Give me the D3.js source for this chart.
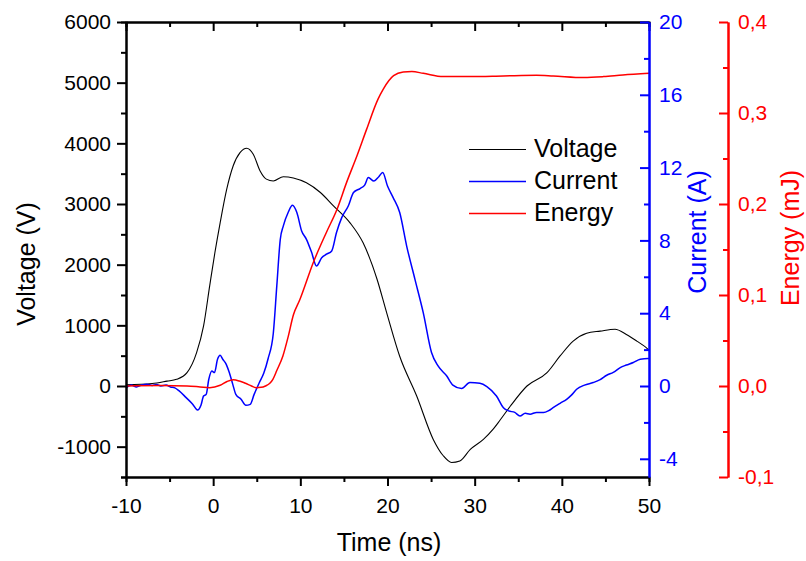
<!DOCTYPE html>
<html>
<head>
<meta charset="utf-8">
<script src="https://cdn.jsdelivr.net/npm/d3@7/dist/d3.min.js"></script>
<style>
  html, body { margin: 0; padding: 0; background: #fff; }
  svg { display: block; }
  text { font-family: "Liberation Sans", Arial, sans-serif; }
</style>
</head>
<body>
<svg id="chart" width="806" height="561"></svg>
<script>
// ---- Data ----
const timeMajorTicks = [-10, 0, 10, 20, 30, 40, 50];
const timeMinorTicks = [-5, 5, 15, 25, 35, 45];
const voltageMajorTicks = [-1000, 0, 1000, 2000, 3000, 4000, 5000, 6000];
const voltageMinorTicks = [-1500, -500, 500, 1500, 2500, 3500, 4500, 5500];
const currentMajorTicks = [-4, 0, 4, 8, 12, 16, 20];
const currentMinorTicks = [-2, 2, 6, 10, 14, 18];
const energyMajorTicks = [-0.1, 0.0, 0.1, 0.2, 0.3, 0.4];
const energyMinorTicks = [-0.05, 0.05, 0.15, 0.25, 0.35];
const seriesNames = ["Voltage", "Current", "Energy"];

// [time (ns), voltage (V)]
const voltage = [
  [-10, 20], [-7, 40], [-5.3, 80], [-4.2, 110], [-3.0, 220], [-1.9, 550], [-1.1, 990],
  [-0.4, 1650], [0.2, 2200], [0.8, 2690], [1.55, 3240], [2.3, 3630], [3.1, 3850],
  [3.85, 3920], [4.6, 3820], [5.4, 3540], [6.1, 3410], [6.9, 3380], [8.05, 3450],
  [9.2, 3430], [10.7, 3350], [12.3, 3190], [13.8, 2970], [15.7, 2690], [17.2, 2360],
  [18.8, 1760], [19.9, 1210], [21.4, 490], [23.35, -165], [25.25, -880], [26.4, -1150],
  [27.35, -1260], [28.3, -1235], [29.5, -1045], [31.0, -880], [32.1, -715], [32.9, -565],
  [34.1, -330], [36.0, 0], [38.3, 220], [39.8, 495], [41.3, 740], [42.85, 870],
  [44.4, 905], [46.1, 935], [47.4, 850], [48.6, 740], [49.9, 605], [50, 590]
];

// [time (ns), current (A)]
const current = [
  [-10, -0.1], [-9.4, 0.05], [-8.8, -0.05], [-8.2, 0.05], [-7.6, 0.1], [-7, 0.03],
  [-6.5, 0.08], [-6, 0.0], [-5.4, 0.05], [-4.9, -0.05], [-4.4, -0.1], [-3.9, -0.27],
  [-3.1, -0.64], [-2.35, -1.0], [-1.8, -1.32], [-1.4, -1.06], [-1.1, -0.55], [-0.8, -0.46],
  [-0.5, 0.37], [-0.15, 0.82], [0.15, 0.74], [0.5, 1.47], [0.8, 1.69], [1.1, 1.47],
  [1.5, 1.19], [1.85, 0.74], [2.25, 0.09], [2.6, -0.46], [3.2, -0.73], [3.75, -1.06],
  [4.25, -1.01], [4.7, -0.46], [5.3, 0.19], [5.8, 0.7], [6.3, 1.5], [6.9, 2.9],
  [7.3, 5.5], [7.7, 8.06], [8.05, 8.8], [8.6, 9.53], [9.1, 9.93], [9.6, 9.53],
  [10.15, 8.52], [10.7, 8.06], [11.3, 7.33], [11.85, 6.59], [12.45, 7.05], [13.0, 7.24],
  [13.6, 7.42], [14.15, 8.43], [14.75, 9.25], [15.5, 9.89], [16.1, 10.63], [16.85, 10.85],
  [17.4, 11.05], [17.8, 11.45], [18.45, 11.26], [19.0, 11.5], [19.45, 11.73], [20.0, 10.99],
  [20.65, 10.35], [21.4, 9.53], [22.2, 7.69], [23.15, 5.86], [24.1, 4.03], [25.05, 1.84],
  [25.8, 1.10], [26.8, 0.55], [27.5, 0.05], [28.5, -0.14], [29.45, 0.19], [30.6, 0.15],
  [31.4, -0.03], [32.5, -0.55], [33.3, -1.19], [33.9, -1.37], [34.6, -1.45], [35.2, -1.65],
  [35.8, -1.5], [36.35, -1.55], [37.1, -1.45], [37.9, -1.46], [38.5, -1.35], [39.0, -1.19],
  [39.8, -0.95], [40.55, -0.73], [41.1, -0.5], [41.7, -0.18], [42.6, 0.05], [43.6, 0.19],
  [44.4, 0.35], [45.15, 0.59], [45.9, 0.75], [46.7, 1.01], [47.4, 1.15], [48.2, 1.29],
  [49.0, 1.47], [49.9, 1.51], [50, 1.5]
];

// [time (ns), energy (mJ)]
const energy = [
  [-10, 0], [-6, 0.0005], [-3, 0], [-1.5, -0.001], [-0.4, -0.0018], [0.8, 0.0008],
  [1.6, 0.005], [2.3, 0.0068], [3.0, 0.0055], [3.7, 0.003], [4.4, 0], [4.9, -0.0018],
  [5.5, -0.0015], [6.0, 0], [6.5, 0.003], [6.85, 0.0074], [7.3, 0.017], [8.0, 0.033],
  [8.6, 0.054], [9.2, 0.078], [9.95, 0.095], [11.5, 0.136], [13.0, 0.169], [14.2, 0.194],
  [15.3, 0.2235], [16.5, 0.253], [17.6, 0.282], [18.9, 0.315], [19.5, 0.326], [20.7, 0.341],
  [21.8, 0.345], [22.8, 0.3455], [24.1, 0.3436], [26.4, 0.340], [29.5, 0.340], [33.3, 0.3407],
  [37.1, 0.3414], [39.0, 0.3407], [42.5, 0.339], [44.8, 0.340], [47.0, 0.3418], [50, 0.3436]
];

// ---- Chart ----
const svg = d3.select("#chart");
const FONT = '"Liberation Sans", Arial, sans-serif';
const plotLeft = 126, plotRight = 649, plotTop = 22, plotBottom = 477;
const energyAxisX = 728;

const x = d3.scaleLinear().domain([-10, 50]).range([plotLeft, plotRight]);
const yV = d3.scaleLinear().domain([-1500, 6000]).range([plotBottom, plotTop]);
const yI = d3.scaleLinear().domain([-5, 20]).range([plotBottom, plotTop]);
const yE = d3.scaleLinear().domain([-0.1, 0.4]).range([plotBottom, plotTop]);

const commaLocale = d3.formatLocale({decimal: ",", thousands: ".", grouping: [3], currency: ["", ""], minus: "-"});
const fmtE = commaLocale.format(".1f");
const fmtInt = d => String(d);

function styleAxis(g, color, fontSize) {
  g.attr("font-family", FONT).attr("font-size", fontSize);
  g.selectAll("path.domain").attr("stroke", color).attr("stroke-width", 2);
  g.selectAll(".tick line").attr("stroke", color).attr("stroke-width", 2);
  g.selectAll(".tick text").attr("fill", color);
}

// Curves (drawn first, axes on top)
const lineV = d3.line().x(d => x(d[0])).y(d => yV(d[1])).curve(d3.curveMonotoneX);
const lineI = d3.line().x(d => x(d[0])).y(d => yI(d[1])).curve(d3.curveMonotoneX);
const lineE = d3.line().x(d => x(d[0])).y(d => yE(d[1])).curve(d3.curveMonotoneX);

svg.append("path").datum(voltage).attr("d", lineV)
  .attr("fill", "none").attr("stroke", "#000").attr("stroke-width", 1.1);
svg.append("path").datum(current).attr("d", lineI)
  .attr("fill", "none").attr("stroke", "#0000ff").attr("stroke-width", 1.5);
svg.append("path").datum(energy).attr("d", lineE)
  .attr("fill", "none").attr("stroke", "#ff0000").attr("stroke-width", 1.5);

// Bottom axis (ticks outward)
const gB = svg.append("g").attr("transform", `translate(0,${plotBottom})`)
  .call(d3.axisBottom(x).tickValues(timeMajorTicks).tickSizeInner(9).tickSizeOuter(0)
    .tickPadding(12).tickFormat(fmtInt));
styleAxis(gB, "#000", 21);
const gBm = svg.append("g").attr("transform", `translate(0,${plotBottom})`)
  .call(d3.axisBottom(x).tickValues(timeMinorTicks).tickSize(5).tickFormat(""));
styleAxis(gBm, "#000", 21);

// Top axis (ticks inward, no labels)
const gT = svg.append("g").attr("transform", `translate(0,${plotTop})`)
  .call(d3.axisBottom(x).tickValues(timeMajorTicks).tickSizeInner(9).tickSizeOuter(0).tickFormat(""));
styleAxis(gT, "#000", 21);
const gTm = svg.append("g").attr("transform", `translate(0,${plotTop})`)
  .call(d3.axisBottom(x).tickValues(timeMinorTicks).tickSize(5).tickFormat(""));
styleAxis(gTm, "#000", 21);

// Left voltage axis (ticks outward)
const gL = svg.append("g").attr("transform", `translate(${plotLeft},0)`)
  .call(d3.axisLeft(yV).tickValues(voltageMajorTicks).tickSizeInner(9).tickSizeOuter(0)
    .tickPadding(6).tickFormat(fmtInt));
styleAxis(gL, "#000", 21);
const gLm = svg.append("g").attr("transform", `translate(${plotLeft},0)`)
  .call(d3.axisLeft(yV).tickValues(voltageMinorTicks).tickSize(5).tickFormat(""));
styleAxis(gLm, "#000", 21);

// Right current axis (blue, ticks inward, labels right)
const gI = svg.append("g").attr("transform", `translate(${plotRight},0)`)
  .call(d3.axisRight(yI).tickValues(currentMajorTicks).tickSizeInner(-9).tickSizeOuter(0)
    .tickPadding(10).tickFormat(fmtInt));
styleAxis(gI, "#0000ff", 21);
const gIm = svg.append("g").attr("transform", `translate(${plotRight},0)`)
  .call(d3.axisRight(yI).tickValues(currentMinorTicks).tickSizeInner(-5).tickSizeOuter(0).tickFormat(""));
styleAxis(gIm, "#0000ff", 21);

// Offset energy axis (red)
const gE = svg.append("g").attr("transform", `translate(${energyAxisX},0)`)
  .call(d3.axisRight(yE).tickValues(energyMajorTicks).tickSizeInner(-9).tickSizeOuter(0)
    .tickPadding(10).tickFormat(fmtE));
styleAxis(gE, "#ff0000", 21);
const gEm = svg.append("g").attr("transform", `translate(${energyAxisX},0)`)
  .call(d3.axisRight(yE).tickValues(energyMinorTicks).tickSizeInner(-5).tickSizeOuter(0).tickFormat(""));
styleAxis(gEm, "#ff0000", 21);

// Axis titles
svg.append("text").attr("x", 389).attr("y", 551).attr("text-anchor", "middle")
  .attr("font-size", 25).attr("fill", "#000").text("Time (ns)");
svg.append("text").attr("transform", "translate(35,264) rotate(-90)").attr("text-anchor", "middle")
  .attr("font-size", 25).attr("fill", "#000").text("Voltage (V)");
svg.append("text").attr("transform", "translate(706,232) rotate(-90)").attr("text-anchor", "middle")
  .attr("font-size", 25).attr("fill", "#0000ff").text("Current (A)");
svg.append("text").attr("transform", "translate(799,238) rotate(-90)").attr("text-anchor", "middle")
  .attr("font-size", 25).attr("fill", "#ff0000").text("Energy (mJ)");

// Legend
const legendColors = ["#000", "#0000ff", "#ff0000"];
const legendWidths = [1.1, 1.5, 1.5];
const legend = svg.append("g");
seriesNames.forEach((name, i) => {
  const base = 157 + i * 32;
  legend.append("line").attr("x1", 469).attr("x2", 526)
    .attr("y1", base - 7.5).attr("y2", base - 7.5)
    .attr("stroke", legendColors[i]).attr("stroke-width", legendWidths[i]);
  legend.append("text").attr("x", 534).attr("y", base)
    .attr("font-size", 25).attr("fill", "#000").text(name);
});
</script>
</body>
</html>
